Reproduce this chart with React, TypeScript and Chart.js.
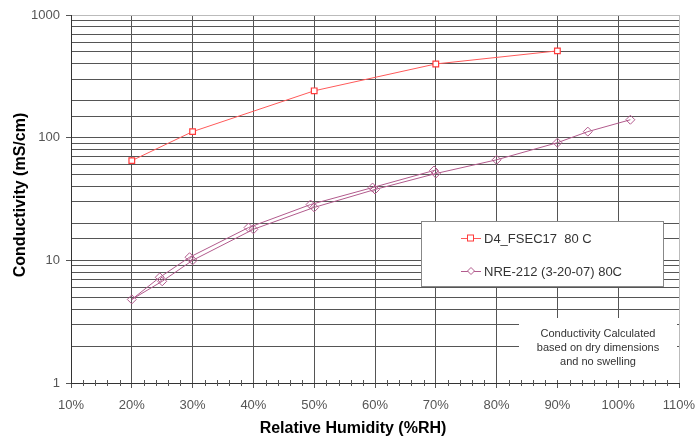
import React, { useEffect, useRef } from "react";
import { Chart, registerables } from "chart.js";

Chart.register(...registerables);

const rhD4 = [20, 30, 50, 70, 90];
const condD4 = [65, 112, 241, 399, 510];

const rhNRE = [69.7, 59.6, 49.4, 39.2, 29.5, 24.6, 20, 25, 30, 40, 50, 60, 70, 80, 90, 95, 102];
const condNRE = [54, 39.2, 28.5, 18.5, 10.6, 7.27, 4.8, 6.75, 10.0, 17.9, 27, 37.8, 51, 66, 91, 112, 140];

const xTickValues = [10, 20, 30, 40, 50, 60, 70, 80, 90, 100, 110];
const yMajorTicks = [1, 10, 100, 1000];

const seriesNames = ["D4_FSEC17  80 C", "NRE-212 (3-20-07) 80C"];
const noteLines = ["Conductivity Calculated", "based on dry dimensions", "and no swelling"];
const xTitle = "Relative Humidity (%RH)";
const yTitle = "Conductivity (mS/cm)";

const RED = "#ff3b3b";
const RED_LINE = "#ff5a5a";
const MAUVE = "#b25b8d";
const GRID = "#555";
const FONT = "'Liberation Sans', Arial, sans-serif";

const overlayPlugin = {
  id: "overlay",
  afterDraw(chart: any) {
    const ctx = chart.ctx as CanvasRenderingContext2D;
    const a = chart.chartArea;
    const xs = chart.scales.x;
    ctx.save();
    // minor x ticks
    ctx.strokeStyle = GRID;
    ctx.lineWidth = 1;
    for (let v = 12; v < 110; v += 2) {
      if (v % 10 === 0) continue;
      const px = Math.round(xs.getPixelForValue(v)) + 0.5;
      ctx.beginPath();
      ctx.moveTo(px, a.bottom - 3);
      ctx.lineTo(px, a.bottom + 3);
      ctx.stroke();
    }
    // note box
    ctx.fillStyle = "#fff";
    ctx.fillRect(519, 318, a.right - 521, 62);
    ctx.fillStyle = "#333";
    ctx.font = `11px ${FONT}`;
    ctx.textAlign = "center";
    ctx.textBaseline = "middle";
    noteLines.forEach((t, i) => ctx.fillText(t, 598, 334 + i * 14));
    // legend box
    ctx.fillStyle = "#fff";
    ctx.fillRect(421, 221, 242, 65);
    ctx.strokeStyle = "#888";
    ctx.strokeRect(421.5, 221.5, 242, 65);
    ctx.font = `13px ${FONT}`;
    ctx.textAlign = "left";
    const rows = [238, 271];
    const colors = [RED, MAUVE];
    rows.forEach((y, i) => {
      ctx.strokeStyle = i === 0 ? RED_LINE : MAUVE;
      ctx.lineWidth = 1;
      ctx.beginPath();
      ctx.moveTo(461, y + 0.5);
      ctx.lineTo(481, y + 0.5);
      ctx.stroke();
      ctx.strokeStyle = colors[i];
      ctx.fillStyle = "#fff";
      if (i === 0) {
        ctx.fillRect(467, y - 3.5, 7, 7);
        ctx.strokeRect(467.5, y - 3, 6, 6);
      } else {
        ctx.beginPath();
        ctx.moveTo(471, y - 3.5);
        ctx.lineTo(474.5, y);
        ctx.lineTo(471, y + 3.5);
        ctx.lineTo(467.5, y);
        ctx.closePath();
        ctx.fill();
        ctx.stroke();
      }
      ctx.fillStyle = "#333";
      ctx.fillText(seriesNames[i], 484, y + 1);
    });
    // axis titles
    ctx.fillStyle = "#000";
    ctx.font = `bold 16px ${FONT}`;
    ctx.textAlign = "center";
    ctx.fillText(xTitle, 353, 429);
    ctx.translate(21, 195);
    ctx.rotate(-Math.PI / 2);
    ctx.fillText(yTitle, 0, 0);
    ctx.restore();
  },
};

export default function App() {
  const ref = useRef<HTMLCanvasElement>(null);
  useEffect(() => {
    if (!ref.current) return;
    const chart = new Chart(ref.current, {
      type: "scatter",
      data: {
        datasets: [
          {
            label: seriesNames[0],
            data: rhD4.map((x, i) => ({ x, y: condD4[i] })),
            showLine: true,
            borderColor: RED_LINE,
            borderWidth: 1,
            pointStyle: "rect",
            pointRadius: 4,
            pointBorderWidth: 1.2,
            pointBorderColor: RED,
            pointBackgroundColor: "#fff",
          },
          {
            label: seriesNames[1],
            data: rhNRE.map((x, i) => ({ x, y: condNRE[i] })),
            showLine: true,
            borderColor: MAUVE,
            borderWidth: 1,
            pointStyle: "rectRot",
            pointRadius: 4.5,
            pointBorderWidth: 1,
            pointBorderColor: MAUVE,
            pointBackgroundColor: "rgba(255,255,255,0)",
          },
        ],
      },
      options: {
        responsive: false,
        animation: false,
        layout: { padding: { top: 15, right: 19, left: 0, bottom: 0 } },
        plugins: { legend: { display: false }, tooltip: { enabled: false } },
        scales: {
          x: {
            type: "linear",
            min: 10,
            max: 110,
            afterBuildTicks: (s: any) => {
              s.ticks = xTickValues.map((v) => ({ value: v }));
            },
            afterFit: (s: any) => {
              s.height = 56;
              s.paddingRight = 0;
              s.paddingLeft = 0;
            },
            ticks: {
              autoSkip: false,
              maxRotation: 0,
              padding: 10,
              color: "#555",
              font: { family: FONT, size: 13 },
              callback: (v: any) => `${v}%`,
            },
            grid: {
              color: (c: any) =>
                c.tick && c.tick.value === 110 ? "#bbb" : c.tick && c.tick.value === 10 ? "#333" : GRID,
              tickColor: GRID,
              tickLength: 5,
            },
            border: { color: "#333" },
          },
          y: {
            type: "logarithmic",
            min: 1,
            max: 1000,
            afterFit: (s: any) => {
              s.width = 71;
              s.paddingTop = 0;
              s.paddingBottom = 0;
            },
            ticks: {
              autoSkip: false,
              padding: 6,
              color: "#555",
              font: { family: FONT, size: 13 },
              callback: (v: any) => (yMajorTicks.includes(Number(v)) ? String(v) : ""),
            },
            grid: {
              color: (c: any) => (c.tick && c.tick.value === 1000 ? "#bbb" : GRID),
              tickColor: (c: any) => (c.tick && yMajorTicks.includes(c.tick.value) ? GRID : "rgba(0,0,0,0)"),
              tickLength: 5,
            },
            border: { color: "#333" },
          },
        },
      },
      plugins: [overlayPlugin],
    } as any);
    return () => chart.destroy();
  }, []);
  return (
    <canvas
      ref={ref}
      width={698}
      height={439}
      style={{ position: "fixed", left: 0, top: 0, display: "block" }}
    />
  );
}
